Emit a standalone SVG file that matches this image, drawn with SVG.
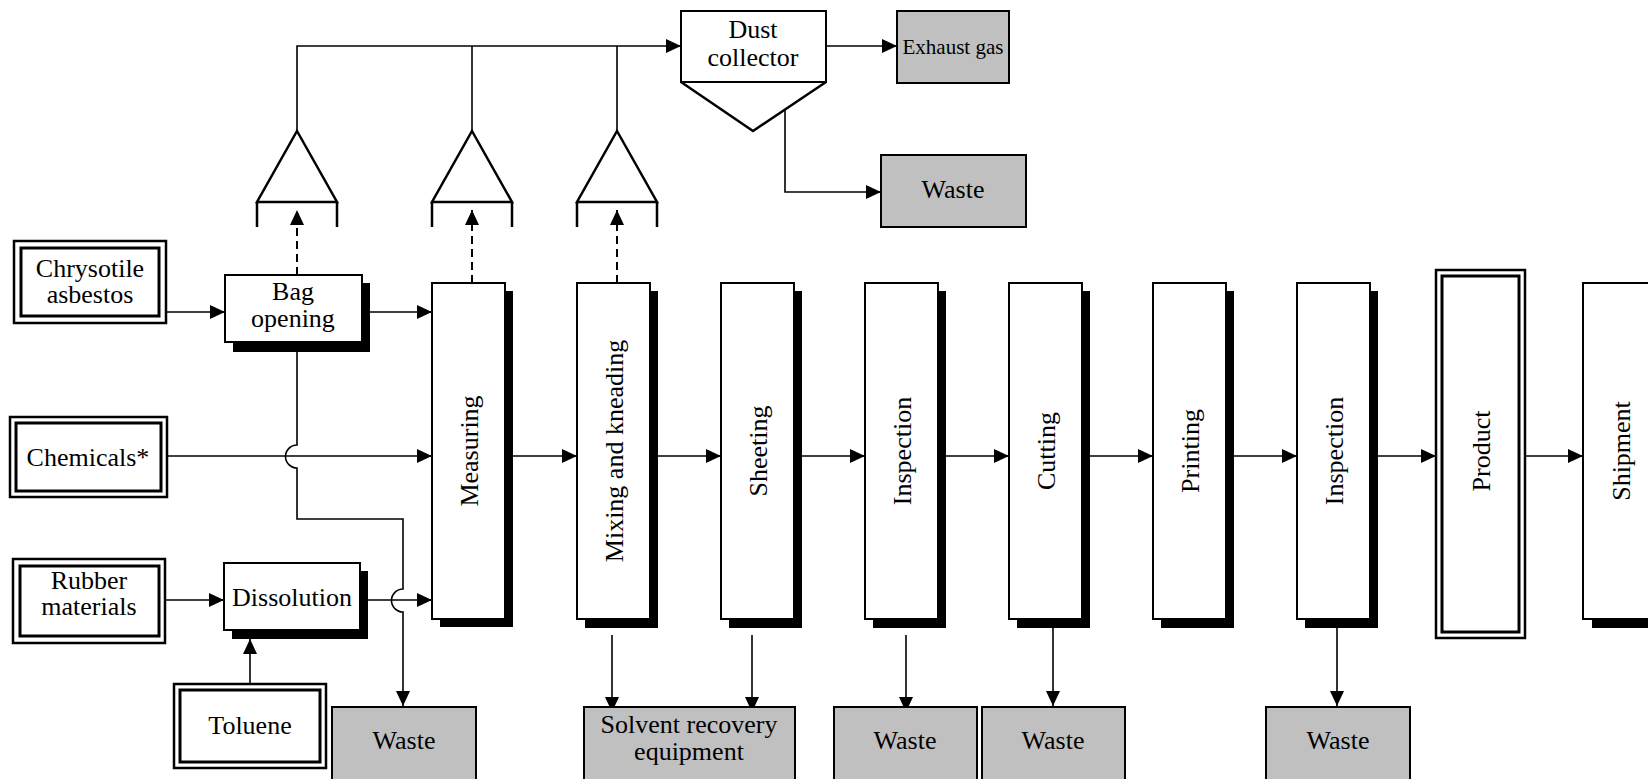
<svg xmlns="http://www.w3.org/2000/svg" width="1648" height="779" viewBox="0 0 1648 779">
  <defs>
    <marker id="ah" markerWidth="15" markerHeight="14" refX="15" refY="7" orient="auto" markerUnits="userSpaceOnUse">
      <path d="M0,0 L15,7 L0,14 z" fill="#000"/>
    </marker>
    <style>
      .t { font-family: "Liberation Serif", "Times New Roman", serif; font-size: 26px; fill: #000; text-anchor: middle; }
      .small { font-size: 21px; }
      .box { fill: #fff; stroke: #000; stroke-width: 2; }
      .shadow { fill: #000; stroke: none; }
      .grey { fill: #c0c0c0; stroke: #000; stroke-width: 2; }
      .outer { fill: #fff; stroke: #000; stroke-width: 2.5; }
      .inner { fill: none; stroke: #000; stroke-width: 3; }
      .hood { fill: none; stroke: #000; stroke-width: 2.5; stroke-linejoin: miter; }
      .ln { fill: none; stroke: #000; stroke-width: 1.6; }
      .arr { fill: none; stroke: #000; stroke-width: 1.6; marker-end: url(#ah); }
      .dash { fill: none; stroke: #000; stroke-width: 2; stroke-dasharray: 8 5; marker-end: url(#ah); }
    </style>
  </defs>
  <rect width="1648" height="779" fill="#fff"/>

  <!-- connectors -->
  <g id="connectors">
    <!-- dust ducts to collector -->
    <path class="arr" d="M297,131 V46 H681"/>
    <path class="ln" d="M472,131 V46"/>
    <path class="ln" d="M617,131 V46"/>
    <path class="arr" d="M826,46 H897"/>
    <path class="arr" d="M785,110 V192 H881"/>
    <!-- suction from processes -->
    <path class="dash" d="M297,275 V210"/>
    <path class="dash" d="M472,283 V210"/>
    <path class="dash" d="M617,283 V210"/>
    <!-- raw material feeds -->
    <path class="arr" d="M166,312 H225"/>
    <path class="arr" d="M370,312 H432"/>
    <path class="arr" d="M167,456 H432"/>
    <path class="arr" d="M165,600 H224"/>
    <path class="arr" d="M368,600 H432"/>
    <path class="arr" d="M250,684 V639"/>
    <!-- bag waste line with hops -->
    <path class="arr" d="M297,352 V445 A11.5,11.5 0 0 0 297,468 V519 H403 V589 A11.5,11.5 0 0 0 403,612 V706"/>
    <!-- main process line -->
    <path class="arr" d="M513,456 H577"/>
    <path class="arr" d="M658,456 H721"/>
    <path class="arr" d="M802,456 H865"/>
    <path class="arr" d="M946,456 H1009"/>
    <path class="arr" d="M1090,456 H1153"/>
    <path class="arr" d="M1234,456 H1297"/>
    <path class="arr" d="M1378,456 H1436"/>
    <path class="arr" d="M1525,456 H1583"/>
    <!-- discharges -->
    <path class="arr" d="M612,635 V712"/>
    <path class="arr" d="M752,635 V712"/>
    <path class="arr" d="M906,635 V712"/>
    <path class="arr" d="M1053,628 V706"/>
    <path class="arr" d="M1337,628 V706"/>
  </g>

  <!-- hoods -->
  <g id="hood-bag">
    <path class="hood" d="M297,131 L337,202 H257 Z M257,202 V227 M337,202 V227"/>
  </g>
  <g id="hood-measuring">
    <path class="hood" d="M472,131 L512,202 H432 Z M432,202 V227 M512,202 V227"/>
  </g>
  <g id="hood-mixing">
    <path class="hood" d="M617,131 L657,202 H577 Z M577,202 V227 M657,202 V227"/>
  </g>

  <!-- dust collector -->
  <g id="dust-collector">
    <rect class="box" x="681" y="11" width="145" height="71"/>
    <path class="hood" d="M681,82 L753,131 L826,82"/>
    <text class="t" x="753" y="38">Dust</text>
    <text class="t" x="753" y="66">collector</text>
  </g>
  <g id="exhaust-gas">
    <rect class="grey" x="897" y="11" width="112" height="72"/>
    <text class="t small" x="953" y="54">Exhaust gas</text>
  </g>
  <g id="waste-dust">
    <rect class="grey" x="881" y="155" width="145" height="72"/>
    <text class="t" x="953" y="198">Waste</text>
  </g>

  <!-- raw materials -->
  <g id="chrysotile">
    <rect class="outer" x="14" y="241" width="152" height="82"/>
    <rect class="inner" x="21" y="248" width="138" height="68"/>
    <text class="t" x="90" y="277">Chrysotile</text>
    <text class="t" x="90" y="303">asbestos</text>
  </g>
  <g id="chemicals">
    <rect class="outer" x="10" y="417" width="157" height="80"/>
    <rect class="inner" x="16" y="423" width="145" height="68"/>
    <text class="t" x="88" y="466">Chemicals*</text>
  </g>
  <g id="rubber">
    <rect class="outer" x="13" y="559" width="152" height="84"/>
    <rect class="inner" x="20" y="566" width="139" height="70"/>
    <text class="t" x="89" y="589">Rubber</text>
    <text class="t" x="89" y="615">materials</text>
  </g>
  <g id="toluene">
    <rect class="outer" x="174" y="684" width="152" height="84"/>
    <rect class="inner" x="180" y="690" width="140" height="72"/>
    <text class="t" x="250" y="734">Toluene</text>
  </g>

  <!-- pre-processing -->
  <g id="bag-opening">
    <rect class="shadow" x="233" y="283" width="137" height="69"/>
    <rect class="box" x="225" y="275" width="137" height="67"/>
    <text class="t" x="293" y="300">Bag</text>
    <text class="t" x="293" y="327">opening</text>
  </g>
  <g id="dissolution">
    <rect class="shadow" x="232" y="571" width="136" height="68"/>
    <rect class="box" x="224" y="563" width="136" height="67"/>
    <text class="t" x="292" y="606">Dissolution</text>
  </g>

  <!-- process steps -->
  <g id="measuring">
    <rect class="shadow" x="440" y="291" width="73" height="336"/>
    <rect class="box" x="432" y="283" width="73" height="336"/>
    <text class="t" transform="translate(469,451) rotate(-90)" dy="9">Measuring</text>
  </g>
  <g id="mixing">
    <rect class="shadow" x="585" y="291" width="73" height="337"/>
    <rect class="box" x="577" y="283" width="73" height="336"/>
    <text class="t" transform="translate(614,451) rotate(-90)" dy="9">Mixing and kneading</text>
  </g>
  <g id="sheeting">
    <rect class="shadow" x="729" y="291" width="73" height="337"/>
    <rect class="box" x="721" y="283" width="73" height="336"/>
    <text class="t" transform="translate(758,451) rotate(-90)" dy="9">Sheeting</text>
  </g>
  <g id="inspection-1">
    <rect class="shadow" x="873" y="291" width="73" height="337"/>
    <rect class="box" x="865" y="283" width="73" height="336"/>
    <text class="t" transform="translate(902,451) rotate(-90)" dy="9">Inspection</text>
  </g>
  <g id="cutting">
    <rect class="shadow" x="1017" y="291" width="73" height="337"/>
    <rect class="box" x="1009" y="283" width="73" height="336"/>
    <text class="t" transform="translate(1046,451) rotate(-90)" dy="9">Cutting</text>
  </g>
  <g id="printing">
    <rect class="shadow" x="1161" y="291" width="73" height="337"/>
    <rect class="box" x="1153" y="283" width="73" height="336"/>
    <text class="t" transform="translate(1190,451) rotate(-90)" dy="9">Printing</text>
  </g>
  <g id="inspection-2">
    <rect class="shadow" x="1305" y="291" width="73" height="337"/>
    <rect class="box" x="1297" y="283" width="73" height="336"/>
    <text class="t" transform="translate(1334,451) rotate(-90)" dy="9">Inspection</text>
  </g>
  <g id="product">
    <rect class="outer" x="1436" y="270" width="89" height="368" stroke-width="3"/>
    <rect class="inner" x="1442" y="276" width="77" height="356" stroke-width="2.2"/>
    <text class="t" transform="translate(1481,451) rotate(-90)" dy="9">Product</text>
  </g>
  <g id="shipment">
    <rect class="shadow" x="1592" y="291" width="73" height="337"/>
    <rect class="box" x="1583" y="283" width="73" height="336"/>
    <text class="t" transform="translate(1621,451) rotate(-90)" dy="9">Shipment</text>
  </g>

  <!-- outputs -->
  <g id="waste-bag">
    <rect class="grey" x="332" y="707" width="144" height="80"/>
    <text class="t" x="404" y="749">Waste</text>
  </g>
  <g id="solvent-recovery">
    <rect class="grey" x="584" y="707" width="211" height="80"/>
    <text class="t" x="689" y="733">Solvent recovery</text>
    <text class="t" x="689" y="760">equipment</text>
  </g>
  <g id="waste-inspection-1">
    <rect class="grey" x="834" y="707" width="143" height="80"/>
    <text class="t" x="905" y="749">Waste</text>
  </g>
  <g id="waste-cutting">
    <rect class="grey" x="982" y="707" width="143" height="80"/>
    <text class="t" x="1053" y="749">Waste</text>
  </g>
  <g id="waste-inspection-2">
    <rect class="grey" x="1266" y="707" width="144" height="80"/>
    <text class="t" x="1338" y="749">Waste</text>
  </g>
</svg>
